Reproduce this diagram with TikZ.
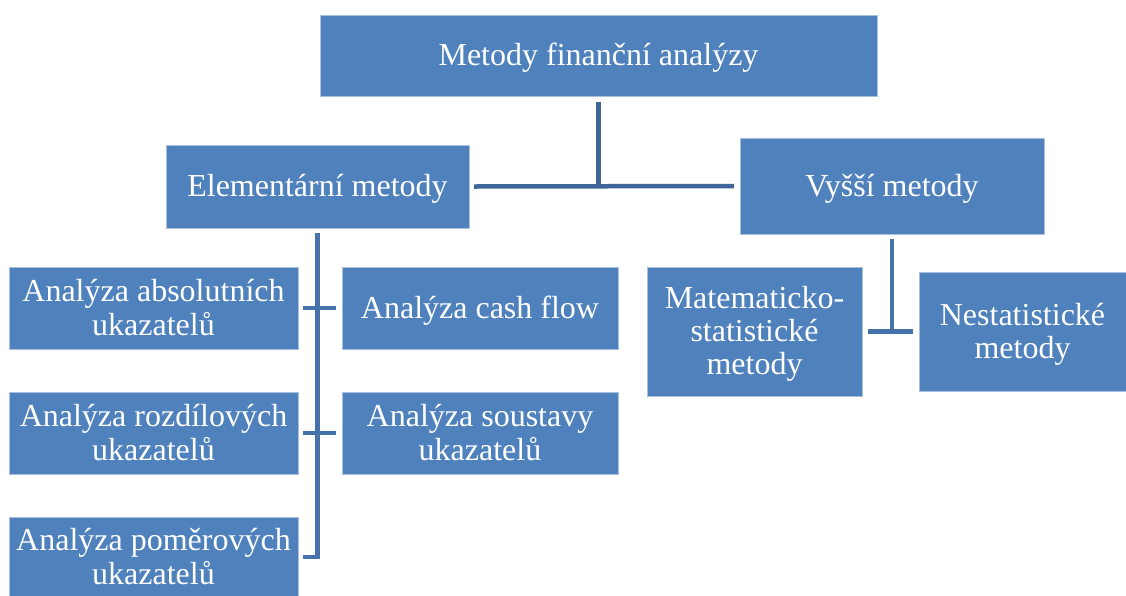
\documentclass[tikz,border=0pt]{standalone}
\usepackage{fontspec}
\setmainfont{Liberation Serif}
\definecolor{boxfill}{HTML}{4F81BD}
\definecolor{boxedge}{HTML}{A9C0DE}
\definecolor{linkdark}{HTML}{3F6699}
\definecolor{linklight}{HTML}{4672AC}
% fixed line box: 27pt above the baseline, 6pt below
\newcommand\linebox{\rule[-6pt]{0pt}{33pt}}
\newcommand\brk{\linebox\\\linebox}
\begin{document}
\begin{tikzpicture}[x=1pt,y=-1pt,
  box/.style={rectangle, fill=boxfill, draw=boxedge, line width=0.8pt,
    inner sep=0pt, outer sep=0pt, align=center, text=white,
    font=\fontsize{32}{33}\selectfont,
    execute at begin node=\linebox, execute at end node=\linebox},
  link/.style={draw=linklight, line width=4.5pt},
  toplink/.style={draw=linkdark, line width=4.5pt}]
\useasboundingbox (0,0) rectangle (1126,595);

% hierarchy boxes
\node[box, minimum width=557pt, minimum height=81pt] (top) at (598.5,55.5) {Metody finanční analýzy};
\node[box, minimum width=303pt, minimum height=83pt] (elem) at (317.5,186.5) {Elementární metody};
\node[box, minimum width=304pt, minimum height=96pt] (vys) at (892,186) {Vyšší metody};

\node[box, minimum width=289pt, minimum height=82pt] (abs) at (153.5,308) {Analýza absolutních\brk ukazatelů};
\node[box, minimum width=276pt, minimum height=82pt] (cash) at (480,308) {Analýza cash flow};
\node[box, minimum width=289pt, minimum height=82pt] (rozd) at (153.5,433) {Analýza rozdílových\brk ukazatelů};
\node[box, minimum width=276pt, minimum height=82pt] (soust) at (480,433) {Analýza soustavy\brk ukazatelů};
\node[box, minimum width=289pt, minimum height=80pt] (pom) at (153.5,557) {Analýza poměrových\brk ukazatelů};

\node[box, minimum width=215pt, minimum height=129pt] (mat) at (754.5,331.5) {Matematicko-\brk statistické\brk metody};
\node[box, minimum width=207pt, minimum height=119pt] (nes) at (1022.5,331.5) {Nestatistické\brk metody};

% top level connectors
\draw[toplink] ([yshift=-6pt]top.south) -- (top.south |- elem.east);
\draw[toplink] ([xshift=5pt]elem.east) -- ([xshift=-6pt]vys.west);

% elementary methods bus
\draw[link] ([yshift=-5pt]elem.south) |- ([xshift=5pt]pom.east);
\draw[link] ([xshift=5pt]abs.east) -- ([xshift=-6pt]cash.west);
\draw[link] ([xshift=5pt]rozd.east) -- ([xshift=-6pt]soust.west);

% higher methods connectors
\draw[link] ([yshift=-5pt]vys.south) -- (vys.south |- mat.east);
\draw[link] ([xshift=6pt]mat.east) -- ([xshift=-6pt]nes.west);
\end{tikzpicture}
\end{document}
